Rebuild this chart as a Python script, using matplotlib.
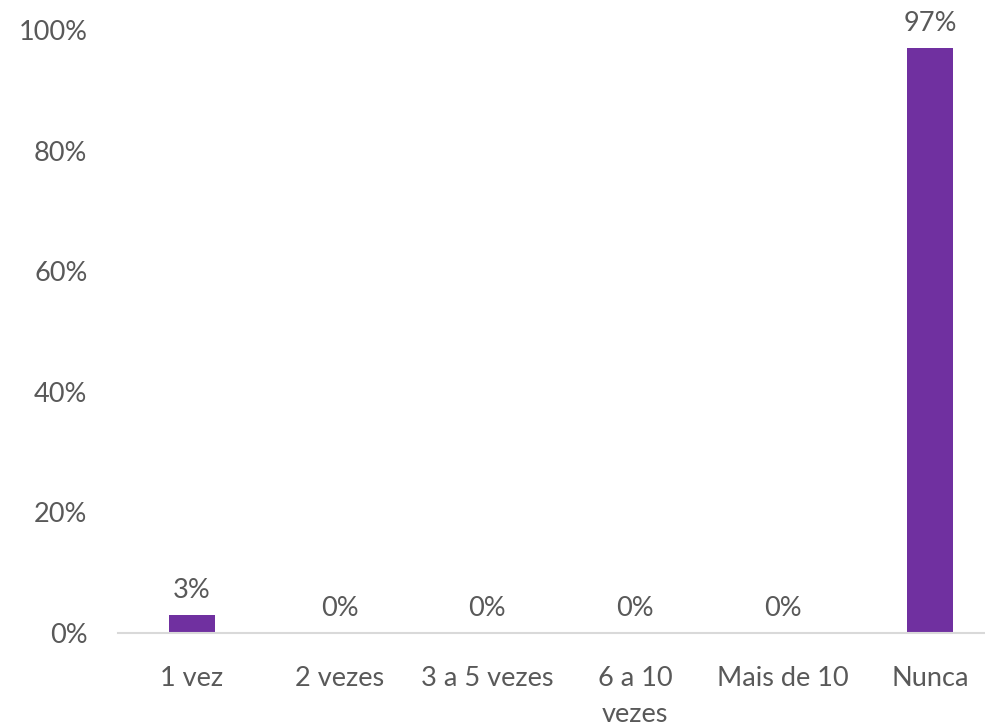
import numpy as np
import matplotlib
matplotlib.use("Agg")
import matplotlib.pyplot as plt
from matplotlib.ticker import PercentFormatter

# === DATA ===
categories = ["1 vez", "2 vezes", "3 a 5 vezes", "6 a 10\nvezes", "Mais de 10", "Nunca"]
values = [0.03, 0.0, 0.0, 0.0, 0.0, 0.97]
labels = ["3%", "0%", "0%", "0%", "0%", "97%"]

BAR_COLOR = "#7030A0"
TEXT_COLOR = "#595959"
FS = 19.5

plt.rcParams['font.family'] = ['Lato', 'DejaVu Sans']

fig = plt.figure(figsize=(9.85, 7.28), dpi=100)
ax = fig.add_axes([118/985, 95/728, (1004-118)/985, 603/728])

x = np.arange(len(categories))
ax.bar(x, values, width=0.31, color=BAR_COLOR)

for xi, v, lab in zip(x, values, labels):
    ax.text(xi, v + 0.02, lab, ha="center", va="bottom", fontsize=FS, color=TEXT_COLOR)

ax.set_xlim(-0.5, len(categories) - 0.5)
ax.set_ylim(0, 1.0)
ax.set_yticks(np.arange(0, 1.01, 0.2))
ax.yaxis.set_major_formatter(PercentFormatter(1.0, decimals=0))
ax.set_xticks(x)
ax.set_xticklabels(categories, linespacing=1.55)

for s in ["top", "right", "left"]:
    ax.spines[s].set_visible(False)
ax.spines["bottom"].set_color("#D9D9D9")
ax.spines["bottom"].set_linewidth(1.5)

ax.tick_params(axis="both", length=0, labelsize=FS, labelcolor=TEXT_COLOR)
ax.tick_params(axis="x", pad=24)
ax.tick_params(axis="y", pad=22)

fig.savefig("out.png", dpi=100)
